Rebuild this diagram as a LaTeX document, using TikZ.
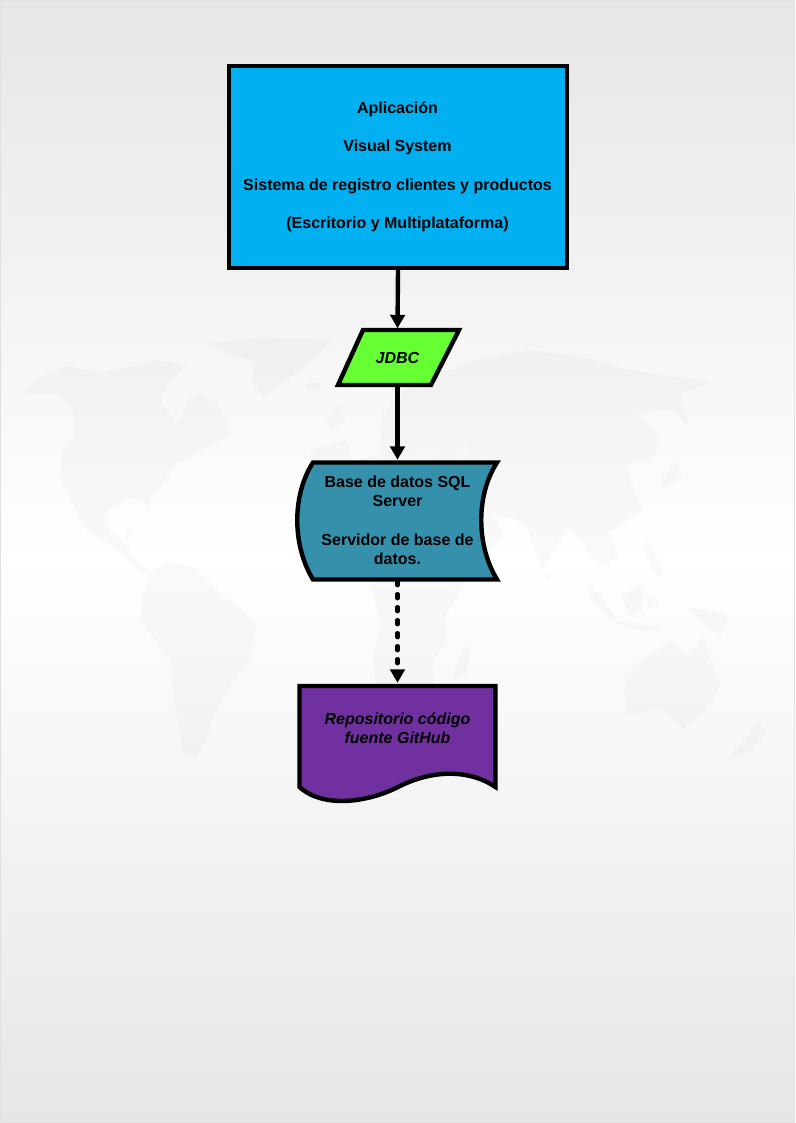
\documentclass[tikz,border=0pt]{standalone}
\usepackage{fontspec}
\setmainfont{Liberation Sans}
\usetikzlibrary{arrows.meta}
\definecolor{bluebox}{HTML}{00B0F0}
\definecolor{greenbox}{HTML}{66FF33}
\definecolor{tealbox}{HTML}{3490AB}
\definecolor{purplebox}{HTML}{7030A0}
\definecolor{seaspot}{HTML}{F6F6F6}
\tikzset{
  x=1pt,y=-1pt,
  shapeline/.style={draw=black,line width=4.4pt,line join=miter},
  label/.style={inner sep=0pt,align=center,text=black,font=\fontsize{16}{19.25}\selectfont\bfseries},
  ghost/.style={inner sep=0pt,draw=none},
  flow/.style={line width=4.4pt,-{Triangle[width=14.5pt,length=13.5pt]}},
  flowdash/.style={flow,line cap=round,dash pattern=on 4pt off 9pt}
}
\begin{document}
\begin{tikzpicture}
\useasboundingbox (0,0) rectangle (795,1123);
% vertical background gradient built from strips
\foreach \yy in {0,4,...,1120}{
  \pgfmathsetmacro{\gv}{0.902+0.098*(1-abs(\yy+2-561)/561)}
  \definecolor{stripcol}{gray}{\gv}
  \fill[stripcol] (0,\yy) rectangle (795,\yy+4.3);
}
\draw[black!12,line width=1pt] (0.5,0.5) rectangle (794.5,1122.5);
% world map: strips clipped to the land
\begin{scope}
\clip (5,415)--(22,404)--(45,398)--(57,395)--(22,393)--(33,382)--(50,372)--(70,366)--(100,373)--(127,368)--(157,360)--(187,367)--(172,378)--(160,400)--(168,412)--(175,423)--(182,417)--(186,402)--(200,392)--(217,405)--(230,423)--(227,437)--(200,450)--(173,467)--(167,477)--(150,497)--(148,513)--(143,500)--(127,498)--(108,510)--(107,527)--(125,543)--(128,530)--(135,529)--(125,543)--(135,558)--(150,573)--(143,574)--(113,547)--(87,530)--(68,495)--(60,473)--(62,453)--(75,433)--(72,407)--(57,395)--(23,403)--cycle
(150,573)--(167,562)--(193,567)--(217,590)--(257,623)--(248,663)--(230,687)--(213,717)--(207,740)--(195,758)--(182,750)--(175,700)--(170,660)--(140,620)--(142,600)--cycle
(207,343)--(260,338)--(333,340)--(300,370)--(263,398)--(253,383)--(254,362)--(225,352)--cycle
(310,381)--(325,385)--(315,391)--(305,388)--cycle
(340,403)--(345,422)--(330,428)--(327,420)--cycle
(475,360)--(528,350)--(582,357)--(628,370)--(712,382)--(680,395)--(690,427)--(672,410)--(635,413)--(658,437)--(655,455)--(625,467)--(642,510)--(608,533)--(618,553)--(608,567)--(592,558)--(582,543)--(568,527)--(542,570)--(527,527)--(512,517)--(490,515)--(505,535)--(480,560)--(465,583)--(445,617)--(447,640)--(432,663)--(435,690)--(377,690)--(373,660)--(380,623)--(370,580)--(345,560)--(300,520)--(312,450)--(345,440)--(355,465)--(380,450)--(382,415)--(400,395)--(425,375)--(452,370)--cycle
(470,642)--(467,673)--(452,680)--(458,660)--cycle
(625,673)--(672,640)--(688,657)--(703,637)--(720,687)--(705,710)--(682,730)--(662,707)--(625,717)--cycle
(585,581)--(602,598)--(615,617)--(610,620)--(592,600)--cycle
(621,597)--(645,580)--(642,612)--(630,615)--cycle
(612,620)--(660,627)--(660,632)--(625,628)--cycle
(688,607)--(730,615)--(720,635)--(700,622)--cycle
(645,595)--(660,600)--(650,610)--cycle
(678,463)--(682,475)--(664,490)--(660,480)--cycle
(645,536)--(660,565)--(664,580)--(652,570)--(645,550)--cycle
(546,572)--(551,575)--(550,580)--(546,579)--cycle
(758,720)--(766,733)--(750,750)--(725,760)--(745,740)--cycle;
\foreach \yy in {336,340,...,770}{
  \pgfmathsetmacro{\gv}{0.902+0.098*(1-abs(\yy+2-561)/561)-0.021}
  \definecolor{stripcol}{gray}{\gv}
  \fill[stripcol] (0,\yy) rectangle (795,\yy+4.3);
}
\end{scope}
\fill[seaspot] (414,445)--(438,443)--(440,455)--(418,457)--cycle;
\fill[seaspot] (453,445)--(468,442)--(470,455)--(455,458)--cycle;
% nodes
\node[shapeline,fill=bluebox,minimum width=338pt,minimum height=202pt,inner sep=0pt] (app) at (398,167) {};
\node[label] (apptext) at (397.5,167)
  {Aplicación\\[19.25pt]Visual System\\[19.25pt]Sistema de registro clientes y productos\\[19.25pt](Escritorio y Multiplataforma)};
\fill[greenbox,shapeline] (363,330)--(459,330)--(431,385)--(338,385)--cycle;
\node[ghost,minimum width=123pt,minimum height=58pt] (jdbc) at (397.5,357.5) {\fontsize{16}{19.25}\selectfont\bfseries\itshape JDBC};
\fill[tealbox,shapeline] (313,462.5) -- (497,462.5) .. controls (476,495) and (476,545) .. (497,579.5) -- (313,579.5) .. controls (292,545) and (292,495) .. (313,462.5) -- cycle;
\node[ghost,minimum width=199pt,minimum height=121pt,label] (base) at (397.5,520.5)
  {Base de datos SQL\\Server\\[19.25pt]Servidor de base de\\datos.};
\fill[purplebox,shapeline] (299.5,686) -- (495.5,686) -- (495.5,787) .. controls (472,771) and (437,768) .. (400,786) .. controls (372,801) and (325,810) .. (299.5,787) -- cycle;
\node[ghost,minimum width=199pt,minimum height=122pt] (doc) at (397.5,744) {};
\node[label,font=\fontsize{16}{19.25}\selectfont\bfseries\itshape] (doctext) at (397.5,728.5) {Repositorio código\\fuente GitHub};
% connectors
\draw[flow] (app.south) -- (jdbc.north);
\draw[flow] (jdbc.south) -- (base.north);
\draw[flowdash] (base.south) -- (doc.north);
\end{tikzpicture}
\end{document}
